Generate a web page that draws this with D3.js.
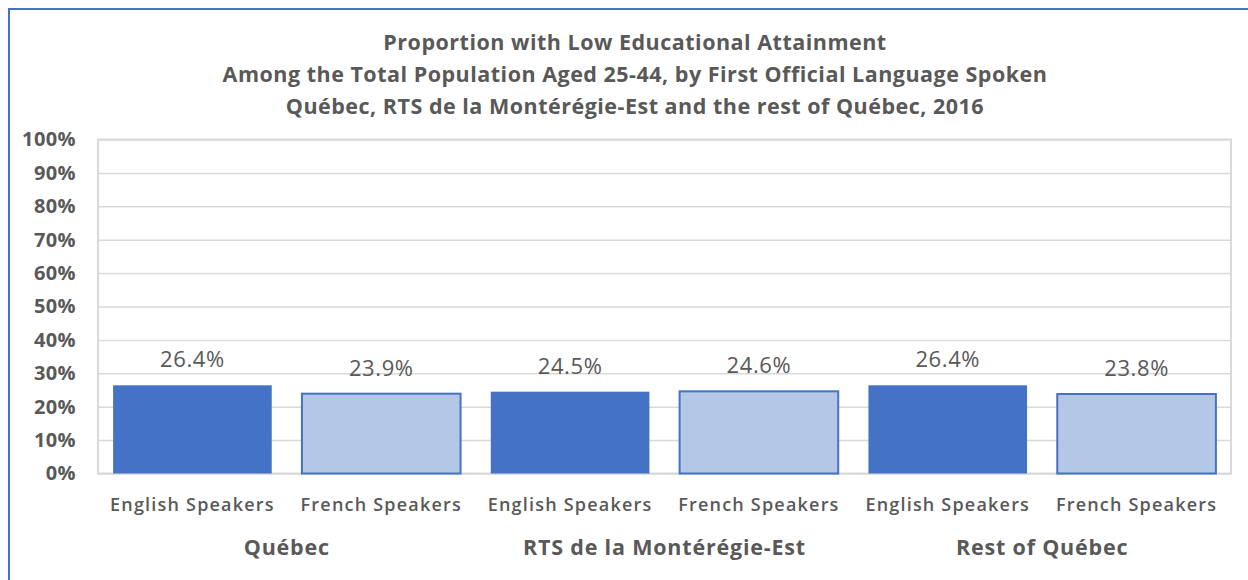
<!DOCTYPE html>
<html>
<head>
<meta charset="utf-8">
<script src="https://cdn.jsdelivr.net/npm/d3@7"></script>
<style>
  body { margin: 0; background: #fff; }
  text { font-family: "Open Sans", sans-serif; fill: #595959; }
</style>
</head>
<body>
<div id="chart"></div>
<script>
const WIDTH = 1248;
const HEIGHT = 580;

// data
const groups = ["Québec", "RTS de la Montérégie-Est", "Rest of Québec"];
const speakers = ["English Speakers", "French Speakers"];
const values = [26.4, 23.9, 24.5, 24.6, 26.4, 23.8];
const yTicks = [0, 10, 20, 30, 40, 50, 60, 70, 80, 90, 100];
const titleLines = [
    "Proportion with Low Educational Attainment",
    "Among the Total Population Aged 25-44, by First Official Language Spoken",
    "Québec, RTS de la Montérégie-Est and the rest of Québec, 2016"
];

const bars = values.map((v, i) => ({
    key: i,
    group: groups[Math.floor(i / 2)],
    speaker: speakers[i % 2],
    value: v
}));

const plot = { left: 98, right: 1231, top: 139.5, bottom: 473.5 };

const svg = d3.select("#chart")
    .append("svg")
    .attr("width", WIDTH)
    .attr("height", HEIGHT);

// outer chart border
svg.append("rect")
    .attr("x", 9).attr("y", 9)
    .attr("width", 1260).attr("height", 600)
    .attr("fill", "none")
    .attr("stroke", "#4472C4")
    .attr("stroke-width", 2);

// title
svg.append("g").selectAll("text")
    .data(titleLines)
    .enter().append("text")
    .attr("x", 635)
    .attr("y", (d, i) => 50 + i * 32)
    .attr("text-anchor", "middle")
    .attr("font-size", 21.5)
    .attr("font-weight", "bold")
    .attr("letter-spacing", 0.5)
    .text(d => d);

const x = d3.scaleBand()
    .domain(bars.map(d => d.key))
    .range([plot.left, plot.right])
    .paddingInner(0.16)
    .paddingOuter(0.08);

const y = d3.scaleLinear()
    .domain([0, 100])
    .range([plot.bottom, plot.top]);

// gridlines
svg.append("g")
    .attr("transform", `translate(${plot.left},0)`)
    .call(d3.axisLeft(y).tickValues(yTicks).tickSize(-(plot.right - plot.left)).tickFormat(""))
    .call(g => g.select(".domain").remove())
    .call(g => g.selectAll("line").attr("stroke", "#d9d9d9").attr("stroke-width", 1.5));

// plot frame
svg.append("rect")
    .attr("x", plot.left).attr("y", plot.top)
    .attr("width", plot.right - plot.left)
    .attr("height", plot.bottom - plot.top)
    .attr("fill", "none")
    .attr("stroke", "#d9d9d9")
    .attr("stroke-width", 2);

// y axis labels
svg.append("g")
    .attr("transform", `translate(76,0)`)
    .call(d3.axisLeft(y).tickValues(yTicks).tickSize(0).tickPadding(0).tickFormat(d => d + "%"))
    .call(g => g.select(".domain").remove())
    .call(g => g.selectAll("text")
        .attr("font-size", 20)
        .attr("font-weight", "bold")
        .attr("letter-spacing", 0.4)
        .attr("fill", "#595959")
        .style("font-family", "'Open Sans', sans-serif"));

// bars
svg.append("g").selectAll("rect")
    .data(bars)
    .enter().append("rect")
    .attr("x", d => x(d.key))
    .attr("y", d => y(d.value))
    .attr("width", x.bandwidth())
    .attr("height", d => y(0) - y(d.value))
    .attr("fill", d => d.speaker === speakers[0] ? "#4472C4" : "#B4C7E7")
    .attr("stroke", "#4472C4")
    .attr("stroke-width", d => d.speaker === speakers[0] ? 0 : 2);

// value labels
svg.append("g").selectAll("text")
    .data(bars)
    .enter().append("text")
    .attr("x", d => x(d.key) + x.bandwidth() / 2)
    .attr("y", d => y(d.value) - 18)
    .attr("text-anchor", "middle")
    .attr("font-size", 22)
    .attr("letter-spacing", 0.6)
    .text(d => d.value.toFixed(1) + "%");

// speaker labels
svg.append("g").selectAll("text")
    .data(bars)
    .enter().append("text")
    .attr("x", d => x(d.key) + x.bandwidth() / 2)
    .attr("y", 511)
    .attr("text-anchor", "middle")
    .attr("font-size", 18)
    .attr("font-weight", 600)
    .attr("letter-spacing", 1.2)
    .text(d => d.speaker);

// group labels
svg.append("g").selectAll("text")
    .data(groups)
    .enter().append("text")
    .attr("x", (d, i) => (x(i * 2) + x(i * 2 + 1) + x.bandwidth()) / 2)
    .attr("y", 555)
    .attr("text-anchor", "middle")
    .attr("font-size", 21.5)
    .attr("font-weight", "bold")
    .attr("letter-spacing", 0.8)
    .text(d => d);
</script>
</body>
</html>
